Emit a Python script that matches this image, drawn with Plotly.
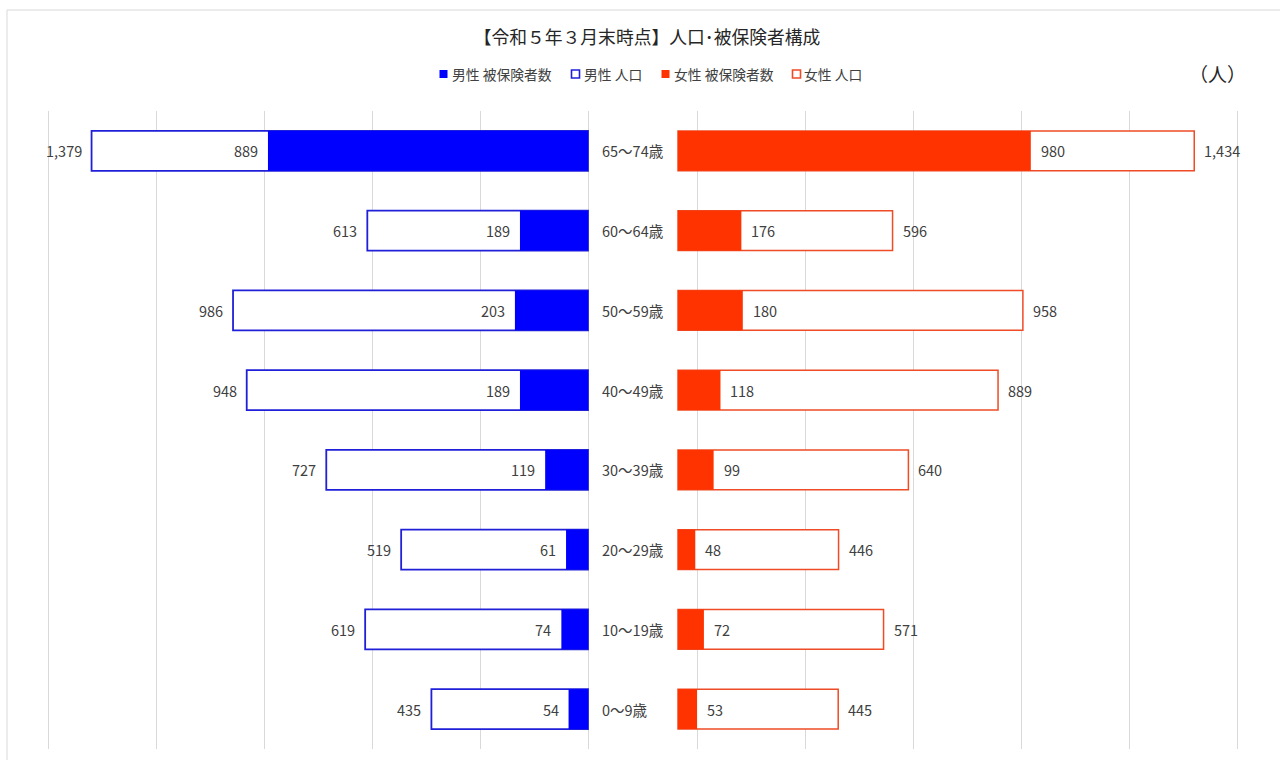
import plotly.graph_objects as go

# Age groups, top to bottom
age_groups = ["65～74歳", "60～64歳", "50～59歳", "40～49歳",
              "30～39歳", "20～29歳", "10～19歳", "0～9歳"]

male_population = [1379, 613, 986, 948, 727, 519, 619, 435]
male_insured = [889, 189, 203, 189, 119, 61, 74, 54]
female_insured = [980, 176, 180, 118, 99, 48, 72, 53]
female_population = [1434, 596, 958, 889, 640, 446, 571, 445]

W, H = 1280, 760
FONT = "Noto Sans CJK JP"
TEXT_COLOR = "#404040"
GRID_COLOR = "#D9D9D9"
MALE_FILL = "#0000FF"
MALE_LINE = "#2020D8"
FEMALE_FILL = "#FF3300"
FEMALE_LINE = "#EE4B26"

# pixel layout of the two panels
LEFT_X0, LEFT_X1 = 48, 588
RIGHT_X0, RIGHT_X1 = 678, 1237
PLOT_TOP, PLOT_BOTTOM = 111, 749
LEFT_MAX = 1500
UNITS_PER_PX = LEFT_MAX / (LEFT_X1 - LEFT_X0)
RIGHT_MAX = (RIGHT_X1 - RIGHT_X0) * UNITS_PER_PX
GRID_OFFSET = (697 - RIGHT_X0) * UNITS_PER_PX
PAD = 3  # px of slack so edge gridlines are not clipped


def px_x(p):
    return p / W


def px_y(p):
    return 1 - p / H


fig = go.Figure()

# population outlines first, insured fills drawn on top
fig.add_trace(go.Bar(
    name="男性 人口", y=age_groups, x=male_population, orientation="h",
    xaxis="x", yaxis="y", width=0.5,
    marker=dict(color="white", line=dict(color=MALE_LINE, width=1.8)),
))
fig.add_trace(go.Bar(
    name="男性 被保険者数", y=age_groups, x=male_insured, orientation="h",
    xaxis="x", yaxis="y", width=0.5,
    marker=dict(color=MALE_FILL, line=dict(width=0)),
))
fig.add_trace(go.Bar(
    name="女性 人口", y=age_groups, x=female_population, orientation="h",
    xaxis="x2", yaxis="y", width=0.5,
    marker=dict(color="white", line=dict(color=FEMALE_LINE, width=1.5)),
))
fig.add_trace(go.Bar(
    name="女性 被保険者数", y=age_groups, x=female_insured, orientation="h",
    xaxis="x2", yaxis="y", width=0.5,
    marker=dict(color=FEMALE_FILL, line=dict(width=0)),
))

annotations = []
shapes = []
label_font = dict(family=FONT, size=14.5, color=TEXT_COLOR)

for cat, pop, ins in zip(age_groups, male_population, male_insured):
    annotations.append(dict(x=pop, y=cat, xref="x", yref="y", text=f"{pop:,}",
                            showarrow=False, xanchor="right", xshift=-8, font=label_font))
    annotations.append(dict(x=ins, y=cat, xref="x", yref="y", text=f"{ins:,}",
                            showarrow=False, xanchor="right", xshift=-8, font=label_font))

for cat, pop, ins in zip(age_groups, female_population, female_insured):
    annotations.append(dict(x=pop, y=cat, xref="x2", yref="y", text=f"{pop:,}",
                            showarrow=False, xanchor="left", xshift=8, font=label_font))
    annotations.append(dict(x=ins, y=cat, xref="x2", yref="y", text=f"{ins:,}",
                            showarrow=False, xanchor="left", xshift=8, font=label_font))

# age group labels between the panels
for cat in age_groups:
    annotations.append(dict(x=px_x(600), y=cat, xref="paper", yref="y", text=cat,
                            showarrow=False, xanchor="left", font=label_font))

# legend row: square key + label
legend_items = [
    ("男性 被保険者数", MALE_FILL, None, 439, 451),
    ("男性 人口", "white", MALE_LINE, 571, 583),
    ("女性 被保険者数", FEMALE_FILL, None, 661, 673),
    ("女性 人口", "white", FEMALE_LINE, 792, 803),
]
LEG_Y = 74
for label, fill, outline, sx, tx in legend_items:
    shapes.append(dict(type="rect", xref="paper", yref="paper",
                       x0=px_x(sx + 0.5), x1=px_x(sx + 8.5),
                       y0=px_y(LEG_Y + 4), y1=px_y(LEG_Y - 4),
                       fillcolor=fill,
                       line=dict(color=outline if outline else fill,
                                 width=1.6 if outline else 0)))
    annotations.append(dict(x=px_x(tx), y=px_y(LEG_Y), xref="paper", yref="paper",
                            text=label, showarrow=False, xanchor="left", yanchor="middle",
                            xshift=-1,
                            font=dict(family=FONT, size=13.8, color=TEXT_COLOR)))

# unit label
annotations.append(dict(x=px_x(1217), y=px_y(74), xref="paper", yref="paper",
                        text="（人）", showarrow=False, xanchor="center", yanchor="middle",
                        font=dict(family=FONT, size=19, color="#262626")))

# outer chart frame
shapes.append(dict(type="rect", xref="paper", yref="paper",
                   x0=px_x(7), x1=1.02, y0=-0.02, y1=px_y(10),
                   line=dict(color=GRID_COLOR, width=1), fillcolor="rgba(0,0,0,0)",
                   layer="below"))

fig.update_layout(
    width=W, height=H,
    margin=dict(l=0, r=0, t=0, b=0),
    paper_bgcolor="white", plot_bgcolor="white",
    barmode="overlay",
    font=dict(family=FONT, color=TEXT_COLOR),
    title=dict(text="【令和５年３月末時点】人口･被保険者構成",
               x=px_x(647), xanchor="center", y=px_y(38), yanchor="middle",
               font=dict(family=FONT, size=17.8, color="#262626")),
    showlegend=False,
    xaxis=dict(domain=[px_x(LEFT_X0 - PAD), px_x(LEFT_X1 + PAD)],
               range=[LEFT_MAX + PAD * UNITS_PER_PX, -PAD * UNITS_PER_PX],
               tickvals=[0, 300, 600, 900, 1200, 1500], showticklabels=False,
               showgrid=True, gridcolor=GRID_COLOR, gridwidth=1.3,
               zeroline=False, showline=False, ticks="", anchor="y", fixedrange=True),
    xaxis2=dict(domain=[px_x(RIGHT_X0 - PAD), px_x(RIGHT_X1 + PAD)],
                range=[-PAD * UNITS_PER_PX, RIGHT_MAX + PAD * UNITS_PER_PX],
                tickvals=[GRID_OFFSET + 300 * k for k in range(6)], showticklabels=False,
                showgrid=True, gridcolor=GRID_COLOR, gridwidth=1.3,
                zeroline=False, showline=False, ticks="", anchor="y", fixedrange=True),
    yaxis=dict(domain=[px_y(PLOT_BOTTOM), px_y(PLOT_TOP)], type="category",
               categoryorder="array", categoryarray=age_groups,
               range=[len(age_groups) - 0.5, -0.5],
               showticklabels=False, showgrid=False, zeroline=False, ticks="",
               fixedrange=True),
    annotations=annotations,
    shapes=shapes,
)

fig.write_html("out.html")
